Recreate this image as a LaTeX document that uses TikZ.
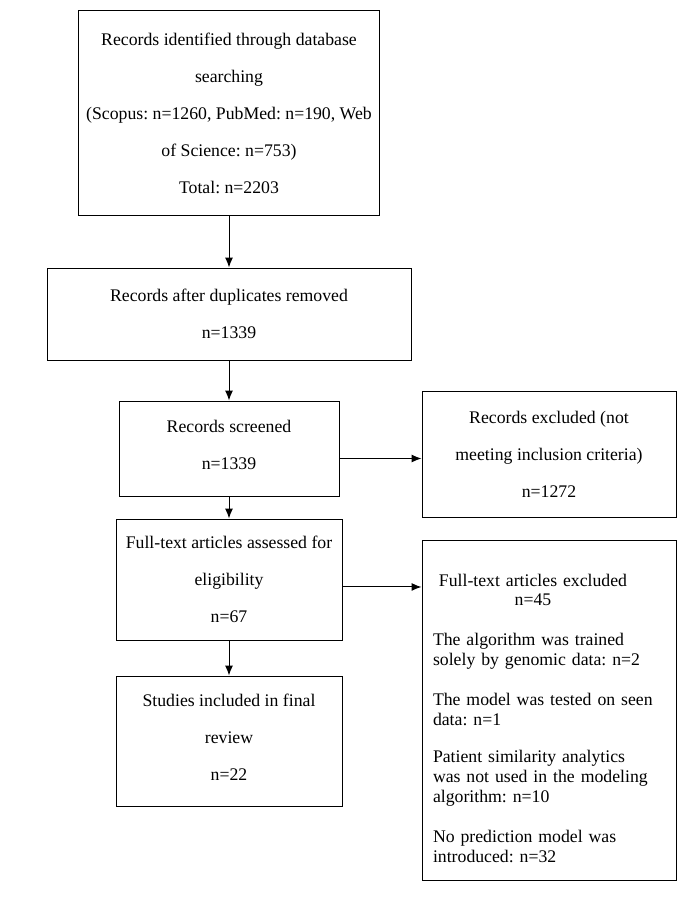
\documentclass[tikz,border=0pt]{standalone}
\usepackage{fontspec}
\setmainfont{Liberation Serif}
\frenchspacing
\usetikzlibrary{arrows.meta}

\begin{document}
\begin{tikzpicture}[x=0.75pt,y=-0.75pt,
    box/.style={draw, line width=0.75pt, align=center, inner sep=0pt,
        font=\fontsize{13.3}{15}\selectfont},
    flow/.style={-{Latex[length=7.5pt,width=6pt]}, line width=0.75pt}]

    \useasboundingbox (0,0) rectangle (692,899);

    % Boxes of the main column
    \node[box, minimum width=225.75pt, minimum height=153.75pt] (identified) at (229,113)
        {Records identified through database\\[12.75pt] searching\\[12.75pt]
         (Scopus: n=1260, PubMed: n=190, Web\\[12.75pt] of Science: n=753)\\[12.75pt] Total: n=2203};
    \node[box, minimum width=273pt, minimum height=69pt] (duplicates) at (229,314)
        {Records after duplicates removed\\[12.75pt] n=1339};
    \node[box, minimum width=165pt, minimum height=71.25pt] (screened) at (229,448.5)
        {Records screened\\[12.75pt] n=1339\rule[-6pt]{0pt}{1pt}};
    \node[box, minimum width=169.5pt, minimum height=90.75pt] (fulltext) at (229,579.5)
        {Full-text articles assessed for\\[12.75pt] eligibility\\[12.75pt] n=67};
    \node[box, minimum width=169.5pt, minimum height=97.5pt] (included) at (229,741)
        {Studies included in final\\[12.75pt] review\\[12.75pt] n=22\rule[-6pt]{0pt}{1pt}};

    % Boxes of the excluded records
    \node[box, minimum width=190.5pt, minimum height=94.5pt] (excscreen) at (549,454)
        {Records excluded (not\\[12.75pt] meeting inclusion criteria)\\[12.75pt] n=1272};
    \node[box, minimum width=190.5pt, minimum height=255pt, text width=174pt, align=left] (excfull) at (549,710)
        {\rule{0pt}{22pt}\makebox[150pt]{Full-text articles excluded}\\[-1pt]
         \makebox[150pt]{n=45}\\[15pt]
         The algorithm was trained\\ solely by genomic data: n=2\\[15pt]
         The model was tested on seen\\ data: n=1\\[13pt]
         Patient similarity analytics\\ was not used in the modeling\\ algorithm: n=10\\[15pt]
         No prediction model was\\ introduced: n=32};

    % Arrows down the main column
    \draw[flow] (identified) -- (duplicates);
    \draw[flow] (duplicates) -- (screened);
    \draw[flow] (screened) -- (fulltext);
    \draw[flow] (fulltext) -- (included);

    % Arrows to the excluded records
    \draw[flow] ([yshift=-7.5pt]screened.east) -- ([yshift=-7.5pt]screened.east -| excscreen.west);
    \draw[flow] ([yshift=-5.6pt]fulltext.east) -- ([yshift=-5.6pt]fulltext.east -| excfull.west);

\end{tikzpicture}
\end{document}
